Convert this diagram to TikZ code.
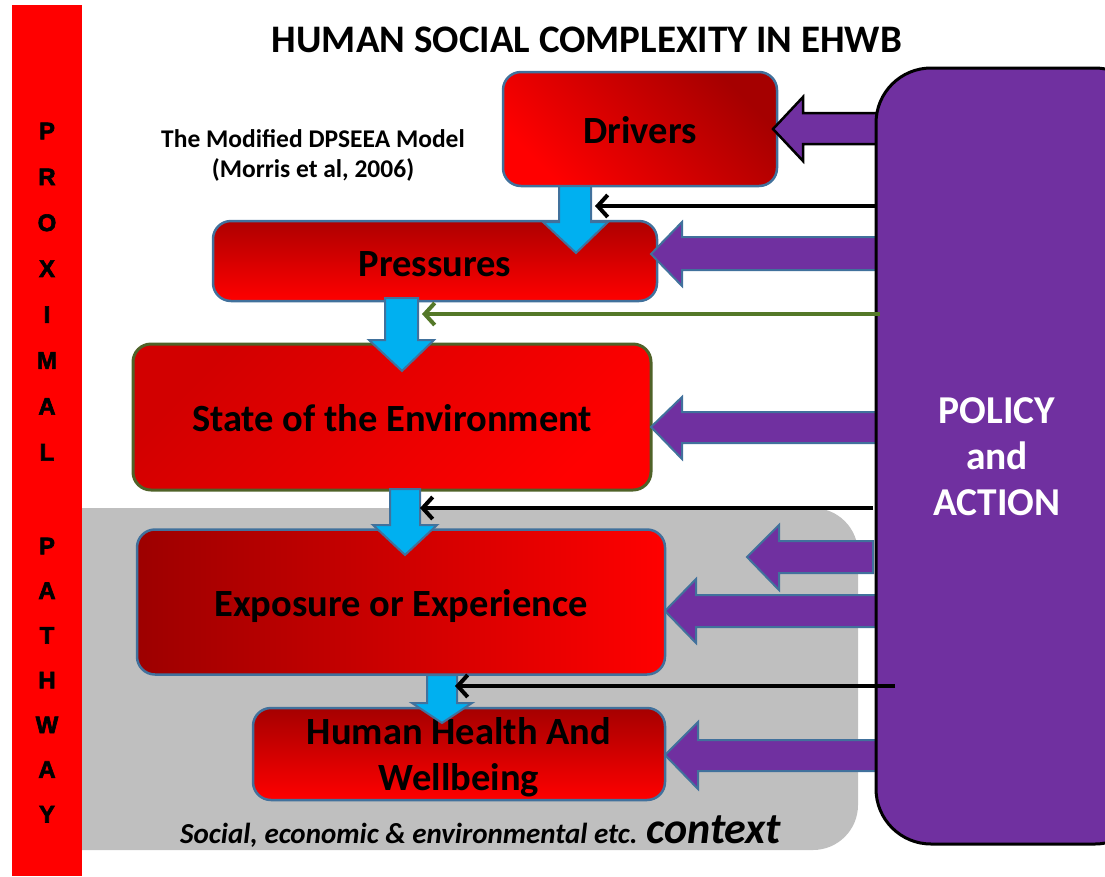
\documentclass[tikz,border=0pt]{standalone}
\usepackage{fontspec}
\setmainfont{Carlito}
\newfontfamily\arialf[BoldFeatures={FakeBold=2.5}]{Liberation Sans}
\usetikzlibrary{arrows.meta}
\definecolor{boxred}{RGB}{255,0,0}
\definecolor{darkred}{RGB}{165,0,0}
\definecolor{steel}{RGB}{65,113,156}
\definecolor{purp}{RGB}{112,48,160}
\definecolor{skyb}{RGB}{0,176,240}
\definecolor{olivec}{RGB}{79,98,40}
\definecolor{greenline}{RGB}{84,120,40}
\definecolor{ctxgray}{RGB}{191,191,191}
\begin{document}
\begin{tikzpicture}[x=1pt,y=-1pt,
  redbox/.style={draw=steel, line width=2.5pt, rounded corners=18pt, align=center, inner sep=0pt,
    font=\bfseries\fontsize{38.5}{46}\selectfont},
  pblock/.style={fill=purp, draw=steel, line width=2pt, line join=miter},
  bblock/.style={fill=skyb, draw=steel, line width=2pt, line join=miter},
  thinarr/.style={line width=4pt, -{Straight Barb[length=10pt,width=22pt]}},
  barletter/.style={font=\arialf\bfseries\fontsize{24}{24}\selectfont, inner sep=0pt}
]
\useasboundingbox (0,0) rectangle (1105,876);
\clip (0,0) rectangle (1105,876);
% context background
\fill[ctxgray, rounded corners=45pt] (30,508) rectangle (858,850);
% proximal pathway bar
\fill[boxred] (12,5) rectangle (82,876);
\foreach \ch [count=\i] in {P,R,O,X,I,M,A,L}
  \node[barletter] (pa\i) at (47,{131+45.9*(\i-1)}) {\ch};
\foreach \ch [count=\i] in {P,A,T,H,W,A,Y}
  \node[barletter] (pb\i) at (47,{546+44.7*(\i-1)}) {\ch};
% title
\node[font=\bfseries\fontsize{39}{46}\selectfont] (title) at (587,40) {HUMAN SOCIAL COMPLEXITY IN EHWB};
\node[font=\bfseries\fontsize{25.5}{30}\selectfont, align=center] (sub) at (313,155) {The Modified DPSEEA Model\\(Morris et al, 2006)};
% boxes
\node[redbox, minimum width=274pt, minimum height=114pt, top color=darkred, bottom color=boxred, shading angle=-45] (drivers) at (640,129) {\raisebox{-1.5pt}[\height][\depth]{Drivers}};
\node[redbox, minimum width=444pt, minimum height=80pt, top color=darkred!90!boxred, bottom color=boxred] (pressures) at (435,261) {\raisebox{-3pt}[\height][\depth]{Pressures}};
\node[redbox, draw=olivec, line width=3pt, minimum width=518pt, minimum height=146pt, top color=darkred!50!boxred, bottom color=boxred, shading angle=45] (state) at (392,417) {\raisebox{-1.5pt}[\height][\depth]{State of the Environment}};
\node[redbox, minimum width=528pt, minimum height=145pt, left color=darkred!95!black, right color=boxred] (exposure) at (401,602) {\raisebox{-4pt}[\height][\depth]{Exposure or Experience}};
\node[redbox, minimum width=412pt, minimum height=88pt, top color=darkred, bottom color=boxred] (hhw) at (459,754) {\raisebox{-4pt}[\height][\depth]{\begin{tabular}{@{}c@{}}Human Health And\\Wellbeing\end{tabular}}};
% blue down arrows
\draw[bblock] (559,186) -- (591,186) -- (591,222) -- (608,222) -- (576,253) -- (543,222) -- (559,222) -- cycle;
\draw[bblock] (385,298) -- (418,298) -- (418,340) -- (434,340) -- (402,371) -- (369,340) -- (385,340) -- cycle;
\draw[bblock] (390,489) -- (420,489) -- (420,525) -- (437,525) -- (405,555) -- (373,525) -- (390,525) -- cycle;
\draw[bblock] (427,675) -- (457,675) -- (457,703) -- (472,703) -- (442,723) -- (412,703) -- (427,703) -- cycle;
% purple block arrows
\draw[pblock, draw=black, line width=2.5pt] (773,129) -- (803,97) -- (803,113) -- (880,113) -- (880,144) -- (803,144) -- (803,161) -- cycle;
\draw[pblock] (651,254) -- (682,222) -- (682,237) -- (880,237) -- (880,270) -- (682,270) -- (682,286) -- cycle;
\draw[pblock] (651,427) -- (682,397) -- (682,412) -- (880,412) -- (880,443) -- (682,443) -- (682,459) -- cycle;
\draw[pblock] (747,557) -- (779,525) -- (779,541) -- (873,541) -- (873,573) -- (779,573) -- (779,590) -- cycle;
\draw[pblock] (665,611) -- (696,579) -- (696,595) -- (880,595) -- (880,627) -- (696,627) -- (696,643) -- cycle;
\draw[pblock] (665,755) -- (698,722) -- (698,740) -- (880,740) -- (880,771) -- (698,771) -- (698,789) -- cycle;
% policy box
\node[draw=black, line width=3pt, fill=purp, rounded corners=55pt, minimum width=274pt, minimum height=776pt, inner sep=0pt] (policy) at (1013,456) {};
\node[text=white, font=\bfseries\fontsize{39.5}{46}\selectfont, align=center] (policytext) at (997,457) {POLICY\\and\\ACTION};
% thin arrows
\coordinate (s1) at (876,206); \coordinate (e1) at (595,206);
\coordinate (s2) at (880,314); \coordinate (e2) at (422,314);
\coordinate (s3) at (873,508); \coordinate (e3) at (420,508);
\coordinate (s4) at (895,686); \coordinate (e4) at (455,686);
\draw[thinarr] (s1) -- (e1);
\draw[thinarr, greenline] (s2) -- (e2);
\draw[thinarr] (s3) -- (e3);
\draw[thinarr] (s4) -- (e4);
% context label
\node[anchor=base west, inner sep=0pt, font=\bfseries\itshape\fontsize{29}{32}\selectfont] (ctx) at (180,843) {Social, economic \& environmental etc. {\fontsize{44}{48}\selectfont context}};
\end{tikzpicture}
\end{document}
